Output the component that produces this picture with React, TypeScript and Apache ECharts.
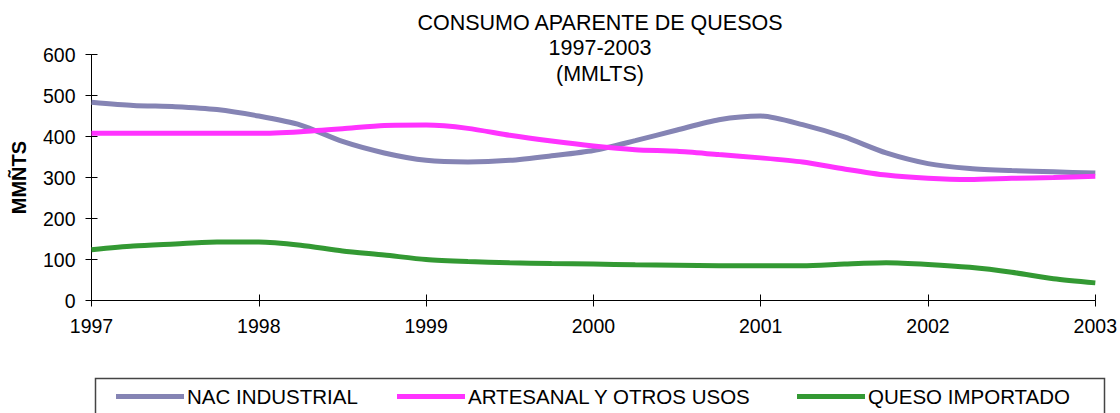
import React, { useEffect, useRef } from "react";
import * as echarts from "echarts";

const years = ["1997", "1998", "1999", "2000", "2001", "2002", "2003"];
// quarterly points, a tick label every year
const categories = years.flatMap((y, i) =>
  i < years.length - 1 ? [y, y + "-II", y + "-III", y + "-IV"] : [y]
);

const nacIndustrial = [484, 476, 473, 466, 450, 428, 388, 360, 342, 338, 342, 353, 366, 390, 416, 441, 450, 429, 399, 360, 334, 322, 317, 314, 311];
const artesanal = [408, 408, 408, 408, 408, 412, 419, 427, 428, 420, 403, 389, 377, 368, 364, 356, 348, 338, 321, 306, 298, 295, 298, 300, 303];
const quesoImportado = [124, 133, 138, 143, 143, 135, 121, 111, 100, 95, 92, 90, 89, 87, 86, 85, 85, 85, 89, 92, 88, 81, 69, 53, 43];

const seriesNames = ["NAC INDUSTRIAL", "ARTESANAL Y OTROS USOS", "QUESO IMPORTADO"];
const seriesData = [nacIndustrial, artesanal, quesoImportado];
const colors = ["#8584B4", "#FF33FF", "#339933"];

const titleLines = ["CONSUMO APARENTE DE QUESOS", "1997-2003", "(MMLTS)"];
const yAxisName = "MMÑTS";

const FONT = "'Liberation Sans', Arial, Helvetica, sans-serif";

export default function App() {
  const ref = useRef<HTMLDivElement>(null);

  useEffect(() => {
    if (!ref.current) return;
    const chart = echarts.init(ref.current, undefined, { renderer: "svg" });
    const legendLefts = [116, 397, 797];
    const option: any = {
      animation: false,
      backgroundColor: "#ffffff",
      textStyle: { fontFamily: FONT },
      grid: { left: 91.5, right: 23, top: 54.6, bottom: 112.5, containLabel: false },
      graphic: [
        {
          type: "text",
          x: 600,
          y: 10,
          style: {
            text: titleLines.join("\n"),
            textAlign: "center",
            textVerticalAlign: "top",
            fontSize: 21.5,
            lineHeight: 25.5,
            fontFamily: FONT,
            fill: "#000",
          },
        },
        {
          type: "rect",
          shape: { x: 95.5, y: 378.5, width: 1009, height: 80 },
          style: { fill: "none", stroke: "#444", lineWidth: 1.5 },
        },
      ],
      legend: seriesNames.map((name, i) => ({
        data: [name],
        left: legendLefts[i],
        top: 386,
        icon: "rect",
        itemWidth: 68,
        itemHeight: 5,
        itemGap: 0,
        padding: 0,
        selectedMode: false,
        textStyle: { fontSize: 20.5, color: "#000", fontFamily: FONT, padding: [0, 0, 0, -2] },
      })),
      xAxis: [
        {
          type: "category",
          data: categories,
          boundaryGap: false,
          axisLine: { lineStyle: { color: "#000", width: 1 } },
          axisTick: { interval: 3, length: 6, lineStyle: { color: "#000" } },
          axisLabel: { interval: 3, color: "#000", fontSize: 19.5, margin: 15, fontFamily: FONT },
          splitLine: { show: false },
        },
        {
          type: "category",
          data: categories,
          boundaryGap: false,
          position: "bottom",
          axisLine: { show: false },
          axisTick: { inside: true, interval: 3, length: 6, lineStyle: { color: "#000" } },
          axisLabel: { show: false },
          splitLine: { show: false },
        },
      ],
      yAxis: [
        {
          type: "value",
          min: 0,
          max: 600,
          interval: 100,
          name: yAxisName,
          nameLocation: "middle",
          nameGap: 63,
          nameRotate: 90,
          nameTextStyle: { fontSize: 20, fontWeight: "bold", color: "#000", fontFamily: FONT },
          axisLine: { show: true, lineStyle: { color: "#000", width: 1 } },
          axisTick: { show: true, length: 6, lineStyle: { color: "#000" } },
          axisLabel: { color: "#000", fontSize: 19.5, margin: 16, fontFamily: FONT },
          splitLine: { show: false },
        },
        {
          type: "value",
          min: 0,
          max: 600,
          interval: 100,
          position: "left",
          axisLine: { show: false },
          axisTick: { show: true, inside: true, length: 6, lineStyle: { color: "#000" } },
          axisLabel: { show: false },
          splitLine: { show: false },
        },
      ],
      series: seriesNames.map((name, i) => ({
        name,
        type: "line",
        data: seriesData[i],
        xAxisIndex: 0,
        yAxisIndex: 0,
        showSymbol: false,
        smooth: 0.25,
        lineStyle: { color: colors[i], width: 5 },
        itemStyle: { color: colors[i] },
        emphasis: { disabled: true },
      })),
    };
    chart.setOption(option);
    return () => chart.dispose();
  }, []);

  return (
    <div
      ref={ref}
      style={{ position: "fixed", left: 0, top: 0, width: 1120, height: 413 }}
    />
  );
}
